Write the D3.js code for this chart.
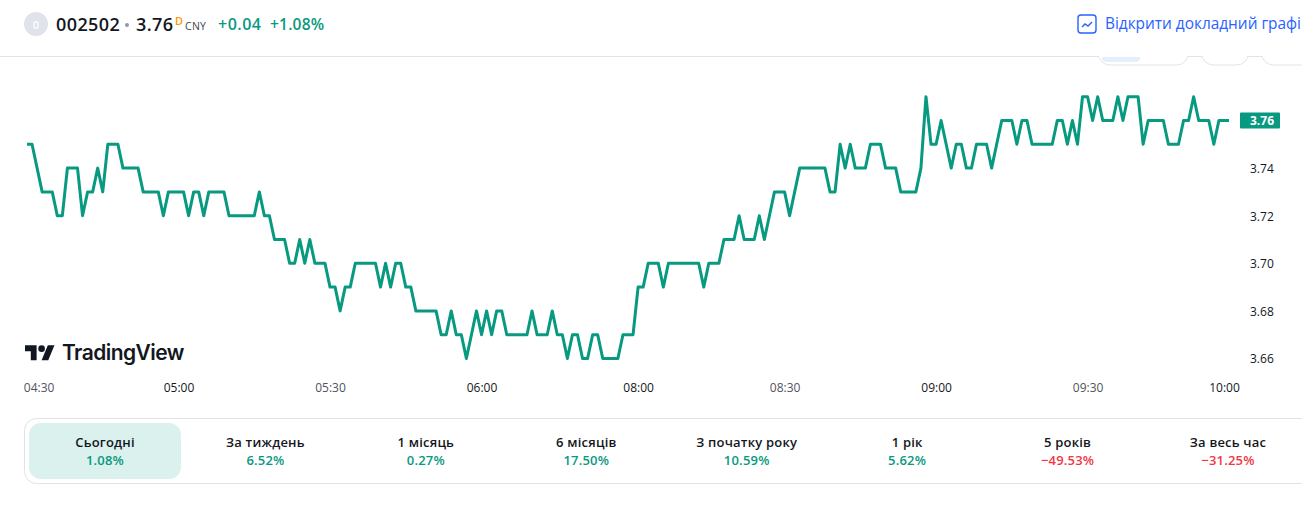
<!DOCTYPE html>
<html>
<head>
<meta charset="utf-8">
<script src="https://cdn.jsdelivr.net/npm/d3@7"></script>
<style>
    html, body { margin: 0; padding: 0; background: #fff; overflow: hidden; }
    svg { display: block; font-family: "Open Sans", sans-serif; }
</style>
</head>
<body>
<script>
var prices = [
    3.75, 3.75, 3.74, 3.73, 3.73, 3.73, 3.72, 3.72, 3.74, 3.74,
    3.74, 3.72, 3.73, 3.73, 3.74, 3.73, 3.75, 3.75, 3.75, 3.74,
    3.74, 3.74, 3.74, 3.73, 3.73, 3.73, 3.73, 3.72, 3.73, 3.73,
    3.73, 3.73, 3.72, 3.73, 3.73, 3.72, 3.73, 3.73, 3.73, 3.73,
    3.72, 3.72, 3.72, 3.72, 3.72, 3.72, 3.73, 3.72, 3.72, 3.71,
    3.71, 3.71, 3.70, 3.70, 3.71, 3.70, 3.71, 3.70, 3.70, 3.70,
    3.69, 3.69, 3.68, 3.69, 3.69, 3.70, 3.70, 3.70, 3.70, 3.70,
    3.69, 3.70, 3.69, 3.70, 3.70, 3.69, 3.69, 3.68, 3.68, 3.68,
    3.68, 3.68, 3.67, 3.67, 3.68, 3.67, 3.67, 3.66, 3.67, 3.68,
    3.67, 3.68, 3.67, 3.68, 3.68, 3.67, 3.67, 3.67, 3.67, 3.67,
    3.68, 3.67, 3.67, 3.67, 3.68, 3.67, 3.67, 3.66, 3.67, 3.67,
    3.66, 3.66, 3.67, 3.67, 3.66, 3.66, 3.66, 3.66, 3.67, 3.67,
    3.67, 3.69, 3.69, 3.70, 3.70, 3.70, 3.69, 3.70, 3.70, 3.70,
    3.70, 3.70, 3.70, 3.70, 3.69, 3.70, 3.70, 3.70, 3.71, 3.71,
    3.71, 3.72, 3.71, 3.71, 3.71, 3.72, 3.71, 3.72, 3.73, 3.73,
    3.73, 3.72, 3.73, 3.74, 3.74, 3.74, 3.74, 3.74, 3.74, 3.73,
    3.73, 3.75, 3.74, 3.75, 3.74, 3.74, 3.74, 3.75, 3.75, 3.75,
    3.74, 3.74, 3.74, 3.73, 3.73, 3.73, 3.73, 3.74, 3.77, 3.75,
    3.75, 3.76, 3.75, 3.74, 3.75, 3.75, 3.74, 3.74, 3.75, 3.75,
    3.75, 3.74, 3.75, 3.76, 3.76, 3.76, 3.75, 3.76, 3.76, 3.75,
    3.75, 3.75, 3.75, 3.75, 3.76, 3.76, 3.75, 3.76, 3.75, 3.77,
    3.77, 3.76, 3.77, 3.76, 3.76, 3.76, 3.77, 3.76, 3.77, 3.77,
    3.77, 3.75, 3.76, 3.76, 3.76, 3.76, 3.75, 3.75, 3.75, 3.76,
    3.76, 3.77, 3.76, 3.76, 3.76, 3.75, 3.76, 3.76, 3.76
];
var timeTicks = [2.3, 30, 60, 90, 121, 150, 180, 210, 237];
var timeLabels = ['04:30', '05:00', '05:30', '06:00', '08:00', '08:30', '09:00', '09:30', '10:00'];
var priceTicks = [3.66, 3.68, 3.70, 3.72, 3.74];
var lastPrice = 3.76;
var periods = ['Сьогодні', 'За тиждень', '1 місяць', '6 місяців', 'З початку року', '1 рік', '5 років', 'За весь час'];
var periodChanges = [1.08, 6.52, 0.27, 17.50, 10.59, 5.62, -49.53, -31.25];

var width = 1302;
var height = 507;
var green = '#089981';
var red = '#f23645';
var ink = '#131722';
var border = '#e0e3eb';

var svg = d3.select('body')
    .append('svg')
    .attr('width', width)
    .attr('height', height)
    ;

var x = d3.scaleLinear().domain([0, prices.length - 1]).range([27, 1229]);
var y = d3.scaleLinear().domain([3.66, 3.76]).range([358.5, 120.5]);

// header
svg.append('line')
    .attr('x1', 0).attr('x2', width)
    .attr('y1', 56.5).attr('y2', 56.5)
    .attr('stroke', border)
    ;

// range buttons, mostly hidden under the header
var pills = svg.append('g')
    .attr('fill', '#fff')
    .attr('stroke', border)
    ;
pills.append('rect').attr('x', 1098).attr('y', 30).attr('width', 90.5).attr('height', 35).attr('rx', 12);
pills.append('rect').attr('x', 1201.5).attr('y', 30).attr('width', 47).attr('height', 35).attr('rx', 12);
pills.append('rect').attr('x', 1261.5).attr('y', 30).attr('width', 60).attr('height', 35).attr('rx', 12);
svg.append('path')
    .attr('d', 'M1102 57H1140V59Q1140 62 1134 62H1108Q1102 62 1102 59Z')
    .attr('fill', '#e3effd')
    ;
svg.append('rect')
    .attr('x', 0).attr('y', 0)
    .attr('width', width).attr('height', 56)
    .attr('fill', '#fff')
    ;

svg.append('circle')
    .attr('cx', 36).attr('cy', 24).attr('r', 12)
    .attr('fill', border)
    ;
svg.append('text')
    .text('0')
    .attr('x', 36).attr('y', 28.5)
    .attr('text-anchor', 'middle')
    .attr('font-size', 11)
    .attr('font-weight', 600)
    .attr('fill', '#fff')
    ;

function headerText(str, left, base, size, weight, color, spacing) {
    svg.append('text')
        .text(str)
        .attr('x', left)
        .attr('y', base)
        .attr('font-size', size)
        .attr('font-weight', weight)
        .attr('letter-spacing', spacing || 0)
        .attr('fill', color)
        ;
}

headerText('002502', 56, 30.5, 18, 600, ink, 0.4);
svg.append('circle').attr('cx', 127).attr('cy', 25).attr('r', 2).attr('fill', '#9598a1');
headerText('3.76', 136, 30.5, 18, 600, ink, 0.4);
headerText('D', 175, 24.5, 11, 600, '#ff9800');
headerText('CNY', 185, 30, 10.5, 400, '#434651', 0.3);
headerText('+0.04', 218, 30, 16, 600, green, 0.5);
headerText('+1.08%', 270, 30, 15.5, 600, green, 0.2);

svg.append('rect')
    .attr('x', 1078).attr('y', 15)
    .attr('width', 18).attr('height', 18)
    .attr('rx', 3)
    .attr('fill', 'none')
    .attr('stroke', '#2962ff')
    .attr('stroke-width', 1.4)
    ;
svg.append('path')
    .attr('d', 'M1082 27L1085 24L1088 26L1092 22')
    .attr('fill', 'none')
    .attr('stroke', '#2962ff')
    .attr('stroke-width', 1.4)
    ;
headerText('Відкрити докладний графі', 1105, 29, 15.4, 400, '#2962ff');

// price line
var line = d3.line()
    .x(function (d, i) { return x(i); })
    .y(function (d) { return y(d); })
    ;

svg.append('path')
    .datum(prices)
    .attr('d', line)
    .attr('fill', 'none')
    .attr('stroke', green)
    .attr('stroke-width', 3)
    .attr('stroke-linejoin', 'round')
    ;

// axes
var timeAxis = d3.axisBottom(x)
    .tickValues(timeTicks)
    .tickFormat(function (d, i) { return timeLabels[i]; })
    .tickSize(0)
    .tickPadding(0)
    ;

var gTime = svg.append('g')
    .attr('transform', 'translate(0,383)')
    .call(timeAxis)
    ;
gTime.select('.domain').remove();
gTime.selectAll('text')
    .attr('font-family', '"Open Sans", sans-serif')
    .attr('font-size', 12)
    .attr('fill', function (d, i) { return timeLabels[i].slice(3) === '00' ? ink : '#50535e'; })
    ;

var priceAxis = d3.axisRight(y)
    .tickValues(priceTicks)
    .tickFormat(d3.format('.2f'))
    .tickSize(0)
    .tickPadding(0)
    ;

var gPrice = svg.append('g')
    .attr('transform', 'translate(1250,0.5)')
    .call(priceAxis)
    ;
gPrice.select('.domain').remove();
gPrice.selectAll('text')
    .attr('font-family', '"Open Sans", sans-serif')
    .attr('font-size', 12)
    .attr('fill', ink)
    ;

svg.append('rect')
    .attr('x', 1240).attr('y', y(lastPrice) - 8)
    .attr('width', 40).attr('height', 16)
    .attr('rx', 1)
    .attr('fill', green)
    ;
svg.append('text')
    .text(d3.format('.2f')(lastPrice))
    .attr('x', 1250).attr('y', y(lastPrice) + 4.5)
    .attr('font-size', 12)
    .attr('font-weight', 700)
    .attr('fill', '#fff')
    ;

// logo
var logo = svg.append('g')
    .attr('transform', 'translate(25,342) scale(0.83)')
    .attr('fill', ink)
    ;
logo.append('path').attr('d', 'M14 22H7V11H0V4h14v18zM28 22h-8l7.5-18h8L28 22z');
logo.append('circle').attr('cx', 20).attr('cy', 8).attr('r', 4);
svg.append('text')
    .text('TradingView')
    .attr('x', 62)
    .attr('y', 360)
    .attr('font-family', 'Inter, sans-serif')
    .attr('font-size', 21)
    .attr('font-weight', 600)
    .attr('letter-spacing', -0.55)
    .attr('fill', ink)
    ;

// performance strip
svg.append('rect')
    .attr('x', 24.5).attr('y', 418.5)
    .attr('width', 1300).attr('height', 65)
    .attr('rx', 12)
    .attr('fill', '#fff')
    .attr('stroke', border)
    ;
svg.append('rect')
    .attr('x', 29).attr('y', 423)
    .attr('width', 152).attr('height', 56)
    .attr('rx', 12)
    .attr('fill', '#daf1ed')
    ;

var band = d3.scalePoint().domain(periods).range([105, 1228]);

var cells = svg.selectAll('.period')
    .data(periods)
    .enter()
    .append('g')
    .attr('class', 'period')
    .attr('transform', function (d) { return 'translate(' + band(d) + ',0)'; })
    .attr('text-anchor', 'middle')
    .attr('font-size', 13)
    .attr('font-weight', 600)
    .attr('letter-spacing', 0.2)
    ;

cells.append('text')
    .text(function (d) { return d; })
    .attr('y', 447)
    .attr('fill', ink)
    ;

cells.append('text')
    .text(function (d, i) {
        var v = periodChanges[i];
        return (v < 0 ? '\u2212' : '') + Math.abs(v).toFixed(2) + '%';
    })
    .attr('y', 465)
    .attr('fill', function (d, i) { return periodChanges[i] < 0 ? red : green; })
    ;
</script>
</body>
</html>
